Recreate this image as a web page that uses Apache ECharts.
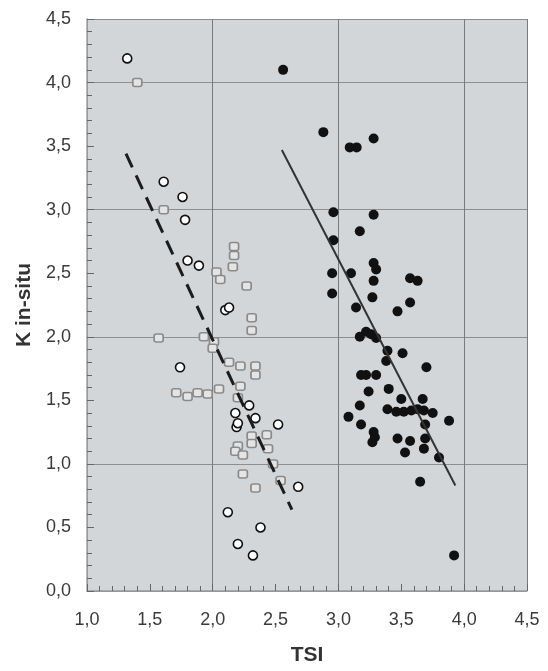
<!DOCTYPE html>
<head>
    <meta charset="UTF-8">
    <title>TSI vs K in-situ</title>
    <script src="https://cdn.jsdelivr.net/npm/echarts@6/dist/echarts.min.js"></script>
    <style>
        body { margin: 0; background: #fff; }
        #main { width: 548px; height: 671px; }
    </style>
</head>
<body>
    <div id="main"></div>
    <script type="text/javascript">
        // tick labels (comma decimals, as in the original)
        var xTickLabels = ['1,0', '1,5', '2,0', '2,5', '3,0', '3,5', '4,0', '4,5'];
        var yTickLabels = ['0,0', '0,5', '1,0', '1,5', '2,0', '2,5', '3,0', '3,5', '4,0', '4,5'];

        // open circles [TSI, K]
        var openCircles = [
            [1.32, 4.19], [1.61, 3.22], [1.76, 3.10], [1.78, 2.92], [1.80, 2.60],
            [1.89, 2.56], [2.10, 2.21], [2.13, 2.23], [1.74, 1.76], [2.18, 1.40],
            [2.19, 1.29], [2.20, 1.32], [2.29, 1.46], [2.34, 1.36], [2.52, 1.31],
            [2.68, 0.82], [2.12, 0.62], [2.38, 0.50], [2.20, 0.37], [2.32, 0.28]
        ];

        // grey squares [TSI, K]
        var greySquares = [
            [1.40, 4.00], [1.61, 3.00], [1.57, 1.99], [1.71, 1.56], [1.80, 1.53],
            [1.88, 1.56], [1.96, 1.55], [2.05, 1.59], [1.93, 2.00], [2.01, 1.96],
            [2.00, 1.91], [2.03, 2.51], [2.06, 2.45], [2.17, 2.71], [2.17, 2.64],
            [2.16, 2.55], [2.27, 2.40], [2.31, 2.15], [2.31, 2.05], [2.13, 1.80],
            [2.22, 1.77], [2.34, 1.77], [2.34, 1.70], [2.22, 1.61], [2.20, 1.52],
            [2.20, 1.14], [2.18, 1.10], [2.24, 1.07], [2.31, 1.22], [2.31, 1.16],
            [2.43, 1.23], [2.44, 1.12], [2.48, 1.00], [2.54, 0.87], [2.24, 0.92],
            [2.34, 0.81]
        ];

        // black dots [TSI, K]
        var blackDots = [
            [2.56, 4.10], [2.88, 3.61], [3.09, 3.49], [3.145, 3.49], [3.28, 3.56],
            [2.96, 2.98], [3.28, 2.96], [3.17, 2.83], [2.96, 2.76], [2.95, 2.50],
            [3.10, 2.50], [3.28, 2.58], [3.30, 2.53], [3.28, 2.44], [2.95, 2.34],
            [3.27, 2.31], [3.14, 2.23], [3.47, 2.20], [3.57, 2.27], [3.57, 2.46],
            [3.63, 2.44], [3.17, 2.00], [3.22, 2.04], [3.26, 2.02], [3.30, 1.99],
            [3.39, 1.89], [3.51, 1.87], [3.38, 1.81], [3.70, 1.76], [3.18, 1.70],
            [3.22, 1.70], [3.30, 1.70], [3.24, 1.57], [3.40, 1.59], [3.50, 1.51],
            [3.17, 1.46], [3.08, 1.37], [3.39, 1.43], [3.46, 1.41], [3.52, 1.41],
            [3.58, 1.42], [3.63, 1.43], [3.67, 1.51], [3.68, 1.42], [3.75, 1.40],
            [3.88, 1.34], [3.18, 1.31], [3.28, 1.25], [3.29, 1.21], [3.27, 1.17],
            [3.47, 1.20], [3.57, 1.18], [3.53, 1.09], [3.69, 1.31], [3.69, 1.20],
            [3.68, 1.12], [3.80, 1.05], [3.65, 0.86], [3.92, 0.28]
        ];

        // fitted lines (end points)
        var dashedFit = [[1.31, 3.44], [2.63, 0.64]];
        var solidFit = [[2.55, 3.47], [3.93, 0.83]];

        var myChart = echarts.init(document.getElementById('main'));

        var labelFont = {
            fontFamily: 'Liberation Sans',
            fontSize: 18,
            color: '#3a3a3a'
        };

        myChart.setOption({
            animation: false,
            grid: {
                left: 87, right: 21, top: 19, bottom: 78,
                show: true,
                backgroundColor: '#d3d6d9',
                borderWidth: 0
            },
            xAxis: [{
                type: 'value',
                min: 1, max: 4.5, interval: 0.5,
                name: 'TSI',
                nameLocation: 'middle',
                nameGap: 54,
                nameTextStyle: { fontFamily: 'Liberation Sans', fontSize: 21, fontWeight: 'bold', color: '#333' },
                axisLine: { show: true, lineStyle: { color: '#9a9a9a', width: 1.5 } },
                axisTick: { show: true, inside: true, length: 7, lineStyle: { color: '#666' } },
                minorTick: { show: true, splitNumber: 5, length: 5, lineStyle: { color: '#666', width: 1 } },
                splitLine: { show: false },
                axisLabel: Object.assign({
                    margin: 20,
                    formatter: function (v) { return xTickLabels[Math.round((v - 1) / 0.5)]; }
                }, labelFont),
                z: 3
            }, {
                type: 'value',
                position: 'bottom',
                min: 1, max: 4.5, interval: 1,
                axisLine: { show: false },
                axisTick: { show: false },
                axisLabel: { show: false },
                splitLine: { show: true, lineStyle: { color: '#7a7a7a', width: 1 } }
            }],
            yAxis: [{
                type: 'value',
                min: 0, max: 4.5, interval: 0.5,
                name: 'K in-situ',
                nameLocation: 'middle',
                nameGap: 50,
                nameTextStyle: { fontFamily: 'Liberation Sans', fontSize: 21, fontWeight: 'bold', color: '#333' },
                axisLine: { show: true, lineStyle: { color: '#a5a5a5', width: 1.5 } },
                axisTick: { show: true, inside: true, length: 7, lineStyle: { color: '#666' } },
                minorTick: { show: true, splitNumber: 5, length: 5, lineStyle: { color: '#666', width: 1 } },
                splitLine: { show: false },
                axisLabel: Object.assign({
                    margin: 16,
                    formatter: function (v) { return yTickLabels[Math.round(v / 0.5)]; }
                }, labelFont),
                z: 3
            }, {
                type: 'value',
                position: 'left',
                min: 0, max: 4.5, interval: 1,
                axisLine: { show: false },
                axisTick: { show: false },
                axisLabel: { show: false },
                splitLine: { show: true, lineStyle: { color: '#8e8e8e', width: 1.2 } }
            }],
            series: [{
                name: 'squares',
                type: 'scatter',
                symbol: 'roundRect',
                symbolSize: [9, 8],
                itemStyle: { color: '#e4e4e4', borderColor: '#8a8a8a', borderWidth: 1.6, opacity: 1 },
                data: greySquares
            }, {
                name: 'open',
                type: 'scatter',
                symbol: 'circle',
                symbolSize: 9,
                itemStyle: { color: '#ffffff', borderColor: '#111', borderWidth: 1.6, opacity: 1 },
                data: openCircles
            }, {
                name: 'filled',
                type: 'scatter',
                symbol: 'circle',
                symbolSize: 10,
                itemStyle: { color: '#111', opacity: 1 },
                data: blackDots
            }, {
                name: 'fit open',
                type: 'line',
                showSymbol: false,
                lineStyle: { color: '#1c1c1c', width: 3, type: [15, 9] },
                data: dashedFit,
                z: 5
            }, {
                name: 'fit filled',
                type: 'line',
                showSymbol: false,
                lineStyle: { color: '#333', width: 2 },
                data: solidFit,
                z: 5
            }]
        });
    </script>
</body>
